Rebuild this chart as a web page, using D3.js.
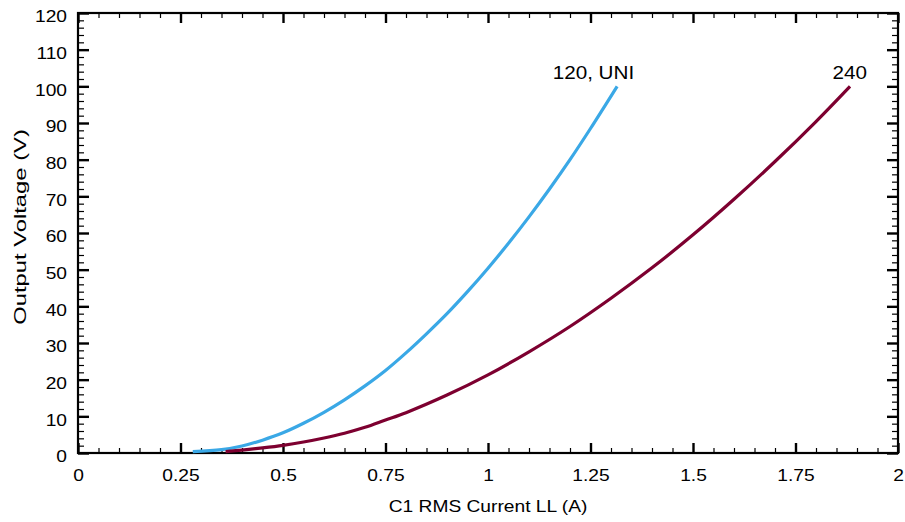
<!DOCTYPE html>
<html>
<head>
<meta charset="utf-8">
<script src="https://cdn.jsdelivr.net/npm/d3@7"></script>
<style>
  body { margin: 0; background: #fff; }
  text { font-family: "Liberation Sans", Arial, sans-serif; fill: #000; }
</style>
</head>
<body>
<svg id="chart" width="905" height="522"></svg>
<script>
// data
const uniCurrent = [0.28, 0.35, 0.40, 0.45, 0.50, 0.55, 0.60, 0.65, 0.70, 0.75, 0.80, 0.85, 0.90, 0.95, 1.00, 1.05, 1.10, 1.15, 1.20, 1.25, 1.315];
const uniVoltage = [0.4, 0.9, 1.9, 3.5, 5.5, 8.1, 11.1, 14.5, 18.3, 22.5, 27.3, 32.5, 38.0, 44.0, 50.4, 57.2, 64.4, 72.0, 80.0, 88.5, 100];
const v240Current = [0.36, 0.40, 0.45, 0.50, 0.55, 0.60, 0.65, 0.70, 0.75, 0.80, 0.90, 1.00, 1.10, 1.20, 1.30, 1.40, 1.50, 1.60, 1.70, 1.80, 1.883];
const v240Voltage = [0.4, 0.8, 1.4, 2.1, 3.0, 4.1, 5.4, 7.0, 9.0, 11.0, 15.8, 21.3, 27.6, 34.5, 42.2, 50.5, 59.5, 69.2, 79.5, 90.4, 100];
const seriesNames = ['120, UNI', '240'];
const seriesColors = ['#3aa8e6', '#7d0030'];
const xTicks = [0, 0.25, 0.5, 0.75, 1, 1.25, 1.5, 1.75, 2];
const xTickLabels = ['0', '0.25', '0.5', '0.75', '1', '1.25', '1.5', '1.75', '2'];
const yTicks = d3.range(0, 121, 10);
const xMinor = d3.range(0, 2.001, 0.05);
const yMinor = d3.range(0, 121, 2);

const W = 905, H = 522;
const margin = { top: 13, right: 7, bottom: 69, left: 78 };
const width = W - margin.left - margin.right;
const height = H - margin.top - margin.bottom;
const SX = 1.2; // the reference font runs wide

const svg = d3.select('#chart');
const g = svg.append('g').attr('transform', `translate(${margin.left},${margin.top})`);

const x = d3.scaleLinear().domain([0, 2]).range([0, width]);
const y = d3.scaleLinear().domain([0, 120]).range([height, 0]);

const minorX = xMinor.filter(v => !xTicks.some(t => Math.abs(t - v) < 1e-6));
const minorY = yMinor.filter(v => v % 10 !== 0);

// inward ticks on all four edges
function ticks(axis, tr, size, sw) {
  const a = g.append('g').attr('transform', tr)
    .call(axis.tickSizeInner(-size).tickSizeOuter(0).tickFormat(''));
  a.select('.domain').remove();
  a.selectAll('.tick line').style('stroke', '#000').style('stroke-width', sw);
}
ticks(d3.axisBottom(x).tickValues(minorX), `translate(0,${height})`, 5, 1.2);
ticks(d3.axisTop(x).tickValues(minorX), null, 5, 1.2);
ticks(d3.axisLeft(y).tickValues(minorY), null, 6, 1.2);
ticks(d3.axisRight(y).tickValues(minorY), `translate(${width},0)`, 6, 1.2);
ticks(d3.axisBottom(x).tickValues(xTicks), `translate(0,${height})`, 10, 2.4);
ticks(d3.axisTop(x).tickValues(xTicks), null, 10, 2.4);
ticks(d3.axisLeft(y).tickValues(yTicks), null, 11, 2.4);
ticks(d3.axisRight(y).tickValues(yTicks), `translate(${width},0)`, 11, 2.4);

// tick labels
const xb = g.append('g').attr('transform', `translate(0,${height})`)
  .call(d3.axisBottom(x).tickValues(xTicks).tickSize(0).tickPadding(17)
    .tickFormat((d, i) => xTickLabels[i]));
const yl = g.append('g')
  .call(d3.axisLeft(y).tickValues(yTicks).tickSize(0).tickPadding(11));
[xb, yl].forEach(a => {
  a.select('.domain').remove();
  a.selectAll('text').style('font-size', '16px').attr('fill', '#000');
});
xb.selectAll('text').attr('transform', `scale(${SX},1)`).attr('x', 0);
yl.selectAll('text').attr('dy', '0.55em')
  .attr('transform', `scale(${SX},1)`).attr('x', -11 / SX);

// frame
g.append('rect')
  .attr('width', width).attr('height', height)
  .style('fill', 'none').style('stroke', '#000').style('stroke-width', 2.2);

// curves
const series = [
  { name: seriesNames[0], color: seriesColors[0], pts: uniCurrent.map((c, i) => [c, uniVoltage[i]]) },
  { name: seriesNames[1], color: seriesColors[1], pts: v240Current.map((c, i) => [c, v240Voltage[i]]) }
];
const line = d3.line().x(d => x(d[0])).y(d => y(d[1])).curve(d3.curveCatmullRom.alpha(0.5));

g.selectAll('path.curve').data(series).join('path')
  .attr('class', 'curve')
  .attr('d', d => line(d.pts))
  .style('fill', 'none')
  .style('stroke', d => d.color)
  .style('stroke-width', 3.2);

// end labels
g.selectAll('text.lbl').data(series).join('text')
  .attr('class', 'lbl')
  .attr('transform', d => {
    const p = d.pts[d.pts.length - 1];
    return `translate(${x(p[0]) + 17},${y(p[1]) - 7}) scale(1.18,1)`;
  })
  .attr('text-anchor', 'end')
  .style('font-size', '17.5px')
  .text(d => d.name);

// axis titles
svg.append('text')
  .attr('transform', `translate(${margin.left + width / 2},${H - 10}) scale(${SX},1)`)
  .attr('text-anchor', 'middle')
  .style('font-size', '16px')
  .text('C1 RMS Current LL (A)');

svg.append('text')
  .attr('transform', `translate(26,${margin.top + height / 2 - 6}) rotate(-90) scale(1.4,1)`)
  .attr('text-anchor', 'middle')
  .style('font-size', '17px')
  .text('Output Voltage (V)');
</script>
</body>
</html>
